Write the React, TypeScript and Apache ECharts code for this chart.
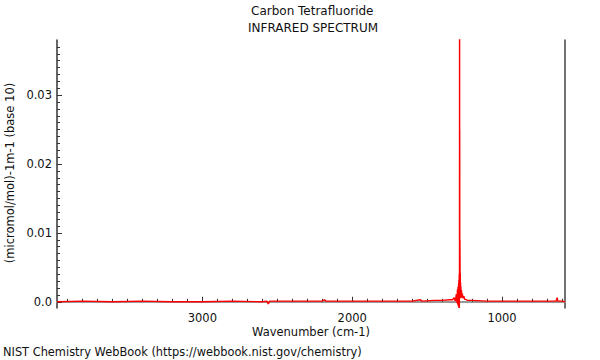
import React, { useEffect, useRef } from "react";
import * as echarts from "echarts";

const wavenumbers = [
  3970, 3800, 3600, 3400, 3200, 3000, 2800, 2600, 2570, 2560, 2550, 2400, 2200, 2185, 2175,
  2000, 1800, 1700, 1600, 1545, 1535, 1450, 1400, 1350, 1330, 1320, 1312, 1305, 1300, 1298,
  1296, 1294, 1292, 1290, 1289, 1288, 1287, 1286, 1285, 1284, 1283.5, 1283, 1282.5, 1282,
  1281, 1280, 1279, 1278, 1277, 1276, 1275, 1273, 1271, 1268, 1265, 1260, 1255, 1250, 1240,
  1230, 1220, 1200, 1100, 1000, 900, 800, 700, 640, 632, 628, 600, 580,
];
const absorbance = [
  0.0, 0.0001, 0.0, 0.0001, 0.0, 0.0, 0.0001, 0.0, 0.0001, -0.0003, 0.0001, 0.0001, 0.0001, 0.0003, 0.0001,
  0.0001, 0.0001, 0.0001, 0.0001, 0.0003, 0.0001, 0.0002, 0.0002, 0.0003, 0.0003, 0.0006, 0.0001, 0.0011, -0.0002, 0.0018,
  -0.0004, 0.0022, -0.0006, 0.0027, -0.0008, 0.0032, -0.0009, 0.004, -0.0009, 0.0055, 0.08, 0.01, 0.025, 0.004,
  0.009, 0.003, 0.0042, 0.001, 0.0028, 0.0005, 0.0022, 0.0007, 0.0017, 0.0006, 0.0012, 0.0005, 0.0008, 0.0004, 0.0003,
  0.0002, 0.0002, 0.0002, 0.0001, 0.0001, 0.0001, 0.0001, 0.0001, 0.0001, 0.0006, 0.0001, 0.0001, 0.0,
];
const xMajorTicks = [1000, 2000, 3000];
const yMajorTicks = [0, 0.01, 0.02, 0.03];
const xMinorTicks = [600, 700, 800, 900, 1100, 1200, 1300, 1400, 1500, 1600, 1700, 1800, 1900, 2100, 2200, 2300, 2400, 2500, 2600, 2700, 2800, 2900, 3100, 3200, 3300, 3400, 3500, 3600, 3700, 3800, 3900];
const yMinorTicks = [0.001, 0.002, 0.003, 0.004, 0.005, 0.006, 0.007, 0.008, 0.009, 0.011, 0.012, 0.013, 0.014, 0.015, 0.016, 0.017, 0.018, 0.019, 0.021, 0.022, 0.023, 0.024, 0.025, 0.026, 0.027, 0.028, 0.029, 0.031, 0.032, 0.033, 0.034, 0.035, 0.036, 0.037];

const X_MIN = 580;
const X_MAX = 3970;
const Y_MIN = -0.0009;
const Y_MAX = 0.038;
const FONT = "DejaVu Sans";

export default function App() {
  const ref = useRef<HTMLDivElement>(null);
  useEffect(() => {
    if (!ref.current) return;
    const chart = echarts.init(ref.current, null, { renderer: "svg" });
    const data = wavenumbers.map((w, i) => [w, absorbance[i]]);
    const baseX = { type: "value", min: X_MIN, max: X_MAX, inverse: true, splitLine: { show: false } };
    const baseY = { type: "value", min: Y_MIN, max: Y_MAX, splitLine: { show: false } };
    chart.setOption({
      animation: false,
      backgroundColor: "#fff",
      grid: { left: 57, right: 35, top: 40, bottom: 52 },
      xAxis: [
        {
          ...baseX,
          position: "bottom",
          axisLine: { show: true, lineStyle: { color: "#333", width: 1.5 } },
          axisTick: { show: true, inside: true, length: 5, customValues: xMajorTicks, lineStyle: { color: "#333" } },
          axisLabel: {
            show: true,
            customValues: xMajorTicks,
            color: "#111",
            fontFamily: FONT,
            fontSize: 11.5,
            margin: 4,
            formatter: (v: number) => String(v),
          },
        },
        {
          ...baseX,
          position: "bottom",
          axisLine: { show: false },
          axisTick: { show: true, inside: true, length: 3, customValues: xMinorTicks, lineStyle: { color: "#333" } },
          axisLabel: { show: false },
        },
        {
          ...baseX,
          position: "top",
          axisLine: { show: true, lineStyle: { color: "#999", width: 2 } },
          axisTick: { show: false },
          axisLabel: { show: false },
        },
      ],
      yAxis: [
        {
          ...baseY,
          position: "left",
          axisLine: { show: true, lineStyle: { color: "#333", width: 1.5 } },
          axisTick: { show: true, inside: true, length: 5, customValues: yMajorTicks, lineStyle: { color: "#333" } },
          axisLabel: {
            show: true,
            customValues: yMajorTicks,
            color: "#111",
            fontFamily: FONT,
            fontSize: 11.5,
            margin: 5,
            formatter: (v: number) => (v === 0 ? "0.0" : v.toFixed(2)),
          },
        },
        {
          ...baseY,
          position: "left",
          axisLine: { show: false },
          axisTick: { show: true, inside: true, length: 3, customValues: yMinorTicks, lineStyle: { color: "#333" } },
          axisLabel: { show: false },
        },
        {
          ...baseY,
          position: "right",
          axisLine: { show: true, lineStyle: { color: "#444", width: 1.5 } },
          axisTick: { show: false },
          axisLabel: { show: false },
        },
      ],
      series: [
        {
          type: "line",
          xAxisIndex: 0,
          yAxisIndex: 0,
          data,
          showSymbol: false,
          symbol: "none",
          clip: true,
          lineStyle: { color: "#ff0000", width: 1.4 },
          emphasis: { disabled: true },
        },
      ],
      graphic: [
        { type: "text", left: 311 - 60, top: 5, style: { text: "Carbon Tetrafluoride", fill: "#111", font: `12px ${FONT}` } },
        { type: "text", left: 311 - 63, top: 22, style: { text: "INFRARED SPECTRUM", fill: "#111", font: `12px ${FONT}` } },
        { type: "text", left: 252, top: 326, style: { text: "Wavenumber (cm-1)", fill: "#111", font: `11.5px ${FONT}` } },
        { type: "text", left: 3, top: 346, style: { text: "NIST Chemistry WebBook (https://webbook.nist.gov/chemistry)", fill: "#111", font: `11.4px ${FONT}` } },
        {
          type: "text",
          x: 10,
          y: 173,
          rotation: Math.PI / 2,
          style: { text: "(micromol/mol)-1m-1 (base 10)", fill: "#111", font: `11.5px ${FONT}`, textAlign: "center", textVerticalAlign: "middle" },
        },
      ],
    });
    return () => chart.dispose();
  }, []);
  return <div ref={ref} style={{ width: 600, height: 360, position: "absolute", left: 0, top: 0 }} />;
}
